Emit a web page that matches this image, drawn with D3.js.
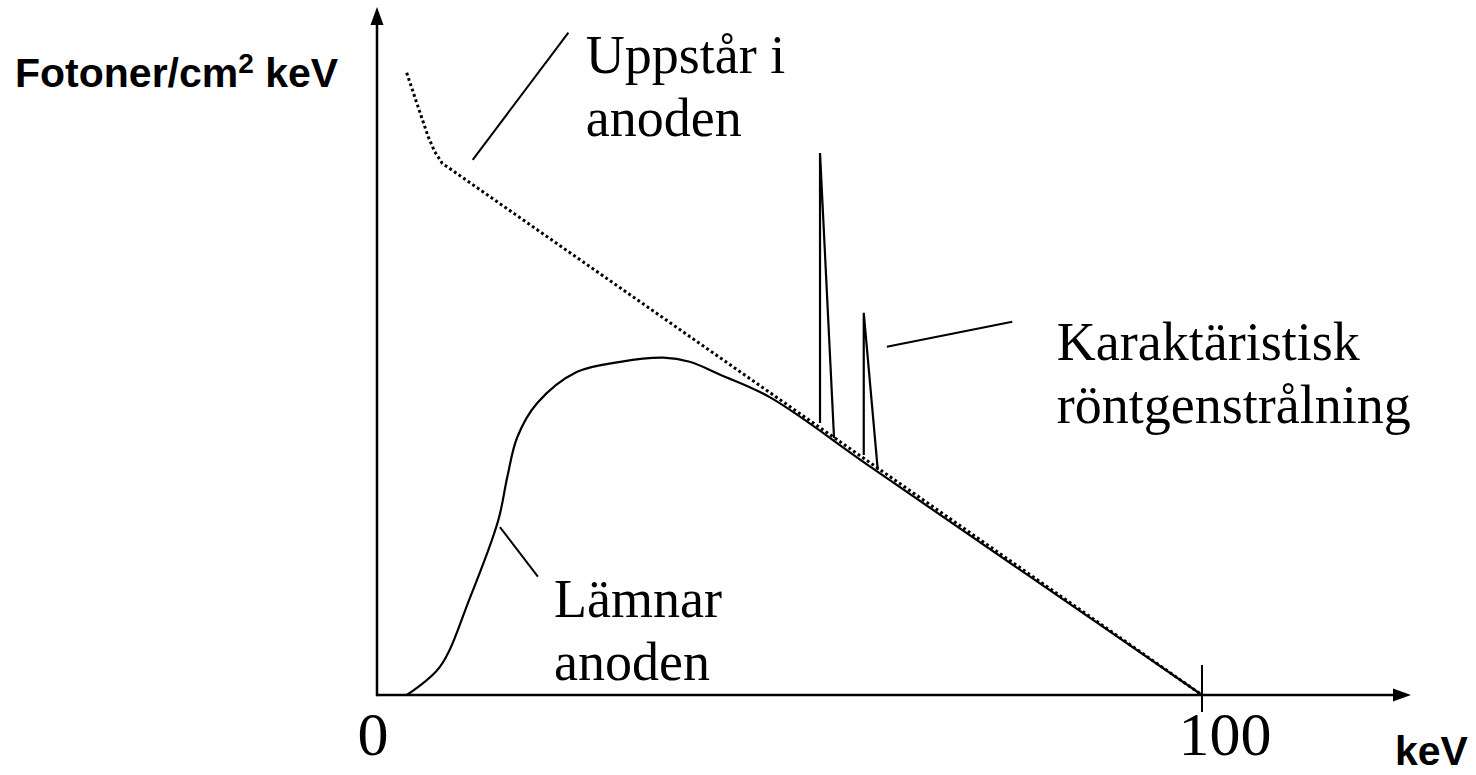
<!DOCTYPE html>
<html>
<head>
<meta charset="utf-8">
<script src="https://cdn.jsdelivr.net/npm/d3@7"></script>
<style>
    html, body { margin: 0; padding: 0; background: #fff; }
    svg { display: block; }
</style>
</head>
<body>
<div id="chart"></div>
<script>
// Energy (keV) and relative intensity
const unfilteredKeV = [3.6, 4.7, 6.2, 7.0, 7.9, 100];
const unfilteredVal = [91.5, 87.5, 82.1, 79.9, 78.2, 0];

const filteredKeV = [3.6, 7.6, 11.3, 14.7, 15.8, 17.0, 19.4, 24.2, 29.5, 34.7, 37.9, 41.6, 47.6, 60, 80, 100];
const filteredVal = [0, 4.1, 14.4, 25.7, 32.1, 37.9, 42.9, 47.5, 49.0, 49.6, 49.0, 47.1, 43.8, 33.4, 16.7, 0];

// Characteristic lines: base, peak, foot
const peakKeV = [[53.7, 53.7, 55.4], [59.0, 59.0, 60.7]];
const peakVal = [[40.0, 79.7, 37.8], [35.3, 56.2, 33.1]];

const xTicks = [0, 100];
const xTickLabels = ['0', '100'];

// Labels with their leader lines (data units)
const labelLines = [['Uppstår i', 'anoden'], ['Karaktäristisk', 'röntgenstrålning'], ['Lämnar', 'anoden']];
const labelKeV = [25.3, 82.4, 21.45];
const labelVal = [91.5, 49.3, 11.5];
const leaderKeV = [[11.6, 23.2], [61.8, 77.0], [14.9, 19.5]];
const leaderVal = [[78.7, 97.4], [51.2, 54.9], [24.7, 17.4]];

const yTitle = 'Fotoner/cm';
const xTitle = 'keV';

const SERIF = '"Liberation Serif", "Times New Roman", serif';
const SANS = '"Liberation Sans", Arial, sans-serif';

const width = 1476;
const height = 775;

const svg = d3.select('#chart')
    .append('svg')
    .attr('width', width)
    .attr('height', height);

const x = d3.scaleLinear().domain([0, 100]).range([377, 1202]);
const y = d3.scaleLinear().domain([0, 100]).range([695, 15]);

// Axes with arrowheads
svg.append('line')
    .attr('x1', x(0)).attr('y1', y(0))
    .attr('x2', 1396).attr('y2', y(0))
    .attr('stroke', '#000').attr('stroke-width', 2.5);
svg.append('path')
    .attr('d', `M1411,${y(0)} L1393,${y(0) - 6.5} L1393,${y(0) + 6.5} Z`)
    .attr('fill', '#000');

svg.append('line')
    .attr('x1', x(0)).attr('y1', y(0) + 1.25)
    .attr('x2', x(0)).attr('y2', 22)
    .attr('stroke', '#000').attr('stroke-width', 2.5);
svg.append('path')
    .attr('d', `M${x(0)},7 L${x(0) - 6.5},25 L${x(0) + 6.5},25 Z`)
    .attr('fill', '#000');

// Tick at 100 keV
svg.append('line')
    .attr('x1', x(100)).attr('y1', y(0) - 30)
    .attr('x2', x(100)).attr('y2', y(0) + 17)
    .attr('stroke', '#000').attr('stroke-width', 2);

svg.selectAll('.tick-label')
    .data(xTicks)
    .join('text')
    .attr('class', 'tick-label')
    .attr('x', (d, i) => x(d) + (i === 0 ? -4 : 23))
    .attr('y', 755)
    .attr('text-anchor', 'middle')
    .style('font-family', SERIF)
    .style('font-size', '62px')
    .text((d, i) => xTickLabels[i]);

// Axis titles
const yt = svg.append('text')
    .attr('x', 15)
    .attr('y', 87)
    .style('font-family', SANS)
    .style('font-weight', 'bold')
    .style('font-size', '41px')
    .text(yTitle);
yt.append('tspan').attr('dy', -14).style('font-size', '28px').text('2');
yt.append('tspan').attr('dy', 14).text(' keV');

svg.append('text')
    .attr('x', 1395)
    .attr('y', 765)
    .style('font-family', SANS)
    .style('font-weight', 'bold')
    .style('font-size', '41px')
    .text(xTitle);

// Spectra
const line = d3.line()
    .x(d => x(d[0]))
    .y(d => y(d[1]));

const unfiltered = unfilteredKeV.map((k, i) => [k, unfilteredVal[i]]);
const filtered = filteredKeV.map((k, i) => [k, filteredVal[i]]);

svg.append('path')
    .attr('d', line.curve(d3.curveLinear)(unfiltered))
    .attr('fill', 'none')
    .attr('stroke', '#000')
    .attr('stroke-width', 3)
    .attr('stroke-dasharray', '2.8,2.8');

svg.append('path')
    .attr('d', line.curve(d3.curveCatmullRom.alpha(0.5))(filtered))
    .attr('fill', 'none')
    .attr('stroke', '#000')
    .attr('stroke-width', 2.2);

peakKeV.forEach((ks, i) => {
    svg.append('path')
        .attr('d', line.curve(d3.curveLinear)(ks.map((k, j) => [k, peakVal[i][j]])))
        .attr('fill', 'none')
        .attr('stroke', '#000')
        .attr('stroke-width', 2.2)
        .attr('stroke-linejoin', 'miter');
});

// Leader lines
leaderKeV.forEach((ks, i) => {
    svg.append('line')
        .attr('x1', x(ks[0])).attr('y1', y(leaderVal[i][0]))
        .attr('x2', x(ks[1])).attr('y2', y(leaderVal[i][1]))
        .attr('stroke', '#000')
        .attr('stroke-width', 2);
});

// Labels
labelLines.forEach((lines, i) => {
    const t = svg.append('text')
        .attr('x', x(labelKeV[i]))
        .attr('y', y(labelVal[i]))
        .style('font-family', SERIF)
        .style('font-size', '54px');
    lines.forEach((s, j) => {
        t.append('tspan')
            .attr('x', x(labelKeV[i]))
            .attr('dy', j === 0 ? 0 : 63)
            .text(s);
    });
});
</script>
</body>
</html>
